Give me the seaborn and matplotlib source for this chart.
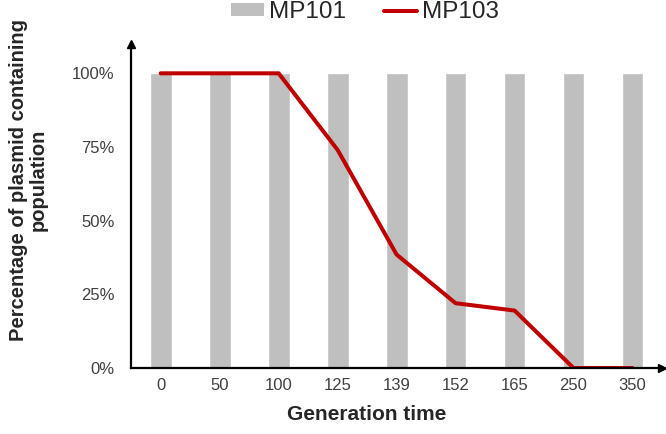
import numpy as np
import pandas as pd
import seaborn as sns
import matplotlib.pyplot as plt
from matplotlib.patches import Patch
from matplotlib.lines import Line2D

generations = ['0', '50', '100', '125', '139', '152', '165', '250', '350']
mp101 = [1.0, 1.0, 1.0, 1.0, 1.0, 1.0, 1.0, 1.0, 1.0]
mp103 = [1.0, 1.0, 1.0, 0.74, 0.385, 0.22, 0.195, 0.0, 0.0]

df = pd.DataFrame({'Generation': generations, 'MP101': mp101, 'MP103': mp103})

sns.set_style('white')
plt.rcParams['font.family'] = ['Liberation Sans', 'DejaVu Sans']

fig = plt.figure(figsize=(6.66, 4.34), dpi=100)
ax = fig.add_axes([0.197, 0.152, 0.797, 0.747])

sns.barplot(data=df, x='Generation', y='MP101', color='#bfbfbf', width=0.37,
            saturation=1, ax=ax)
sns.lineplot(x=np.arange(len(generations)), y=df['MP103'], color='#c00000',
             linewidth=2.9, sort=False, ax=ax)

ax.set_xlim(-0.5, 8.5)
ax.set_ylim(0, 1.1)
ax.set_yticks([0, 0.25, 0.5, 0.75, 1.0])
ax.set_yticklabels(['0%', '25%', '50%', '75%', '100%'])
ax.tick_params(axis='both', length=0, labelsize=12, colors='#404040')
ax.tick_params(axis='y', pad=12)
ax.tick_params(axis='x', pad=7)

for s in ['top', 'right']:
    ax.spines[s].set_visible(False)
for s in ['left', 'bottom']:
    ax.spines[s].set_color('black')
    ax.spines[s].set_linewidth(1.6)

# arrow heads on the axes
ax.plot(1, 0, '>k', markersize=6, transform=ax.get_yaxis_transform(), clip_on=False)
ax.plot(-0.5, 1, '^k', markersize=6, transform=ax.get_xaxis_transform(), clip_on=False)

ax.set_xlabel('Generation time', fontsize=15, fontweight='bold')
ax.xaxis.set_label_coords(0.443, -0.115)
ax.set_ylabel('Percentage of plasmid containing\npopulation', fontsize=14.5,
              fontweight='bold', linespacing=1.0)
ax.yaxis.set_label_coords(-0.158, 0.58)

handles = [Patch(facecolor='#bfbfbf', edgecolor='none'),
           Line2D([0], [0], color='#c00000', linewidth=2.9)]
fig.legend(handles, ['MP101', 'MP103'], loc='center', bbox_to_anchor=(0.548, 0.972),
           ncol=2, frameon=False, fontsize=17.5, handlelength=1.35, handleheight=0.45,
           columnspacing=1.6, handletextpad=0.2, borderpad=0, borderaxespad=0)

fig.savefig('out.png', dpi=100)
